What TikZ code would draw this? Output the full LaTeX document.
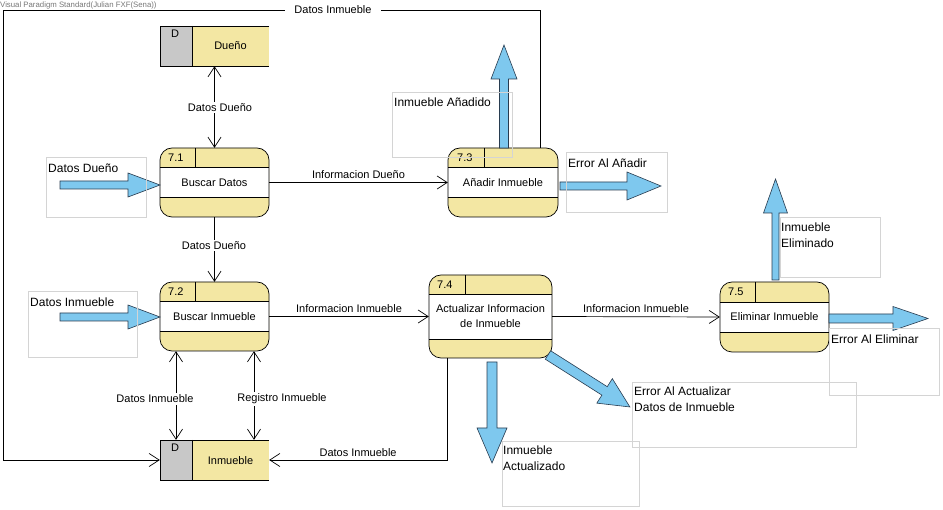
\documentclass[tikz,border=0pt]{standalone}
\usepackage{fontspec}
\setmainfont{Liberation Sans}
\usetikzlibrary{arrows.meta,fit}
\definecolor{yel}{RGB}{243,231,163}
\definecolor{gry}{RGB}{200,200,200}
\definecolor{blu}{RGB}{126,200,238}
\definecolor{boxc}{RGB}{212,212,212}
\definecolor{blkline}{RGB}{40,60,80}
\definecolor{wm}{RGB}{120,120,120}
\tikzset{
  conn/.style={line width=0.7pt},
  arr/.style={conn,-{Straight Barb[length=10pt,width=13pt]}},
  biarr/.style={conn,{Straight Barb[length=10pt,width=13pt]}-{Straight Barb[length=10pt,width=13pt]}},
  lbl/.style={fill=white,inner sep=1.5pt,font=\fontsize{11}{13}\selectfont},
  ptxt/.style={inner sep=0pt,font=\fontsize{11}{15}\selectfont,align=center},
  btxt/.style={inner sep=0pt,font=\fontsize{12}{15.5}\selectfont,align=left},
  lbox/.style={draw=boxc,line width=0.6pt},
  blkarrow/.style={fill=blu,draw=blkline,line width=0.6pt},
  frame/.style={inner sep=0pt}
}
\newcommand\dfdproc[8]{%
  \fill[yel,rounded corners=12pt] (#2,#3) rectangle (#4,#5);
  \fill[white] (#2,#6) rectangle (#4,#7);
  \draw[conn,rounded corners=12pt] (#2,#3) rectangle (#4,#5);
  \draw[conn] (#2,#6) -- (#4,#6) (#2,#7) -- (#4,#7) (#8,#3) -- (#8,#6);
  \node[frame,fit={(#2,#3) (#4,#5)}] (#1) {};
}
\newcommand\dfdstore[6]{%
  \fill[gry] (#2,#3) rectangle (#6,#5);
  \fill[yel] (#6,#3) rectangle (#4,#5);
  \draw[conn] (#4,#3) -- (#2,#3) -- (#2,#5) -- (#4,#5) (#6,#3) -- (#6,#5);
  \node[frame,fit={(#2,#3) (#4,#5)}] (#1) {};
}
\newcommand\blk[6]{%
  \begin{scope}[shift={#1},rotate=#2]
    \filldraw[blkarrow] (0,-#4) -- ({#3-#6},-#4) -- ({#3-#6},-#5) -- (#3,0)
      -- ({#3-#6},#5) -- ({#3-#6},#4) -- (0,#4) -- cycle;
  \end{scope}}
\begin{document}
\begin{tikzpicture}[x=1pt,y=-1pt]
\useasboundingbox (0,0) rectangle (943,510);
\fill[white] (0,0) rectangle (943,510);

% stores
\dfdstore{sd}{160}{26}{269}{66}{192}
\node[ptxt] (sdD) at (175,34) {D};
\node[ptxt] (sdT) at (230.5,46) {Dueño};
\dfdstore{si}{160}{440}{269}{480}{192}
\node[ptxt] (siD) at (175,448) {D};
\node[ptxt] (siT) at (230.5,461) {Inmueble};

% processes
\dfdproc{p71}{160}{148}{269}{217}{167}{197}{195}
\node[ptxt,anchor=west] (n71) at (168,157.5) {7.1};
\node[ptxt] (t71) at (214.5,183) {Buscar Datos};
\dfdproc{p72}{160}{282}{269}{351}{301}{331}{195}
\node[ptxt,anchor=west] (n72) at (168,291.5) {7.2};
\node[ptxt] (t72) at (214.5,316.5) {Buscar Inmueble};
\dfdproc{p73}{448}{148}{558}{217}{167}{197}{484}
\node[ptxt,anchor=west] (n73) at (457,157.5) {7.3};
\node[ptxt] (t73) at (503,183) {Añadir Inmueble};
\dfdproc{p74}{429}{275}{552}{358}{294}{339}{465}
\node[ptxt,anchor=west] (n74) at (437,284.5) {7.4};
\node[ptxt] (t74) at (490.5,316.5) {Actualizar Informacion\\de Inmueble};
\dfdproc{p75}{720}{282}{829}{352}{302}{332}{755}
\node[ptxt,anchor=west] (n75) at (728,292) {7.5};
\node[ptxt] (t75) at (774.5,317) {Eliminar Inmueble};

% connectors
\draw[biarr] (sd.south) -- (p71.north);
\node[lbl] (l1) at (220,108) {Datos Dueño};
\draw[arr] (p71.south) -- (p72.north);
\node[lbl] (l2) at (214,246) {Datos Dueño};
\draw[arr] (p71.east) -- node[lbl,above=2pt,fill=none] (l3) {Informacion Dueño} (p73.west);
\draw[arr] (p72.east) -- node[lbl,above=2pt,fill=none] (l4) {Informacion Inmueble} (p74.west);
\draw[arr] (p74.east) -- node[lbl,above=2pt,fill=none] (l5) {Informacion Inmueble} (p75.west);
\draw[biarr] (p72.south -| 176,0) -- (si.north -| 176,0);
\node[lbl] (l6) at (155,399) {Datos Inmueble};
\draw[biarr] (p72.south -| 254,0) -- (si.north -| 254,0);
\node[lbl] (l7) at (282,399) {Registro Inmueble};
\draw[arr] (p74.south -| 447,0) |- node[lbl,pos=0.75,above=2pt,fill=none] (l8) {Datos Inmueble} (si.east);
\draw[arr] (p73.north -| 540,0) -- (540,10) -- (3,10) |- (si.west);
\node[lbl,inner xsep=9pt] (l9) at (333,10) {Datos Inmueble};

% block arrows
\blk{(60,185)}{0}{100}{4}{12}{32}
\blk{(60,317)}{0}{100}{4}{12}{32}
\blk{(504,148)}{90}{103}{4.5}{13}{34}
\blk{(560,186)}{0}{101}{4}{14}{34}
\blk{(775.5,280)}{90}{101}{3.5}{12}{34}
\blk{(829,318.5)}{0}{99}{4.5}{12}{35}
\blk{(492,362)}{-90}{101}{5}{15}{35}
\blk{(548,355)}{-32.4}{97}{5}{14.5}{30}

% label boxes
\draw[lbox] (46,157) rectangle (146,217);
\node[btxt,anchor=west] (b1) at (48,168) {Datos Dueño};
\draw[lbox] (28,291) rectangle (137,357);
\node[btxt,anchor=west] (b2) at (30,302) {Datos Inmueble};
\draw[lbox] (392,92) rectangle (512,157);
\node[btxt,anchor=west] (b3) at (394,102) {Inmueble Añadido};
\draw[lbox] (566,152) rectangle (667,212);
\node[btxt,anchor=west] (b4) at (568,163) {Error Al Añadir};
\draw[lbox] (780,217) rectangle (880,277);
\node[btxt,anchor=north west] (b5) at (781,223) {Inmueble\\Eliminado};
\draw[lbox] (829,328) rectangle (939,395);
\node[btxt,anchor=west] (b6) at (831,339) {Error Al Eliminar};
\draw[lbox] (632,382) rectangle (856,447);
\node[btxt,anchor=north west] (b7) at (634,387) {Error Al Actualizar\\Datos de Inmueble};
\draw[lbox] (502,441) rectangle (639,506);
\node[btxt,anchor=north west] (b8) at (503,446) {Inmueble\\Actualizado};

% watermark
\node[inner sep=0pt,anchor=west,text=wm,font=\fontsize{7.8}{9}\selectfont] (wmk) at (0,5.5) {Visual Paradigm Standard(Julian FXF(Sena))};
\end{tikzpicture}
\end{document}
